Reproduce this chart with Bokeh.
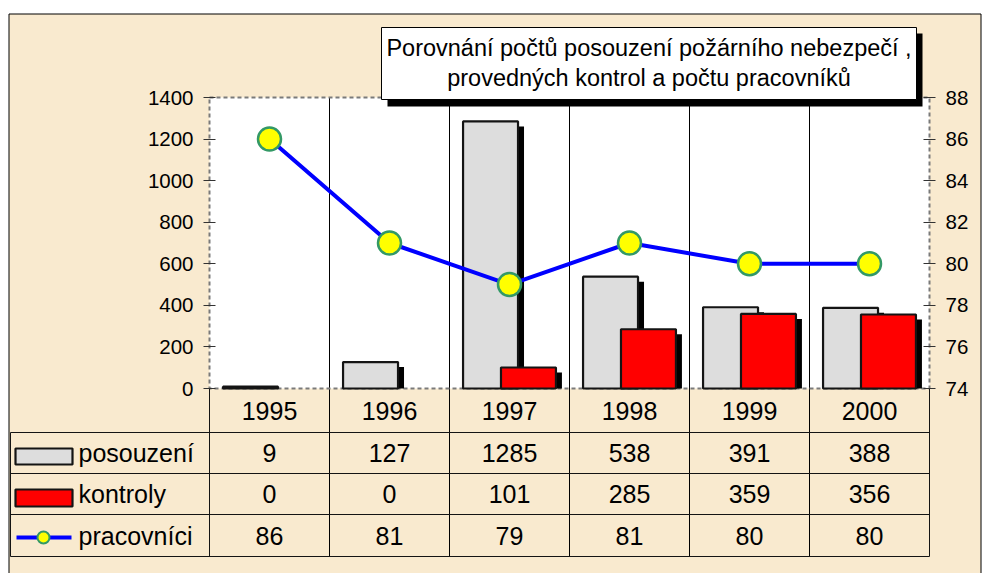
from bokeh.plotting import figure
from bokeh.models import Range1d, LinearAxis, FixedTicker, ColumnDataSource
from bokeh.core.properties import value
from bokeh.embed import file_html
from bokeh.resources import INLINE

# ---------------- data ----------------
years = ["1995", "1996", "1997", "1998", "1999", "2000"]
posouzeni = [9, 127, 1285, 538, 391, 388]
kontroly = [0, 0, 101, 285, 359, 356]
pracovnici = [86, 81, 79, 81, 80, 80]
left_ticks = [0, 200, 400, 600, 800, 1000, 1200, 1400]
right_ticks = [74, 76, 78, 80, 82, 84, 86, 88]
series_names = ["posouzení", "kontroly", "pracovníci"]
title_lines = ["Porovnání počtů posouzení požárního nebezpečí ,",
               "provedných kontrol a počtu pracovníků"]

FONT = "Liberation Sans"
BG = "#F9EACF"
GRAY = "#DDDDDD"
RED = "#FF0000"
BLUE = "#0000FF"
YELLOW = "#FFFF00"
GREEN = "#339966"
DARK = "#141414"

# ---------------- layout (canvas pixels) ----------------
W, H = 983, 573
PX_L, PX_R, PX_T, PX_B = 209, 929, 97, 388      # plot area
L_MIN, L_MAX = left_ticks[0], left_ticks[-1]
R_MIN, R_MAX = right_ticks[0], right_ticks[-1]

n = len(years)
centers = [i + 0.5 for i in range(n)]
xs = n / (PX_R - PX_L)
ys = (L_MAX - L_MIN) / (PX_B - PX_T)
rs = (R_MAX - R_MIN) / (PX_B - PX_T)

BW = 0.458          # bar width (category units)
OFF = 0.158         # dodge offset
SDX = 6 * xs        # shadow x offset
SDY = 5 * ys        # shadow y offset

p = figure(width=W, height=H,
           x_range=Range1d(-PX_L * xs, n + (W - PX_R) * xs),
           y_range=Range1d(L_MIN - (H - PX_B) * ys, L_MAX + PX_T * ys),
           output_backend="svg", toolbar_location=None,
           x_axis_location=None, y_axis_location=None,
           min_border=0, min_border_left=0, min_border_right=0,
           min_border_top=0, min_border_bottom=0)
p.title.visible = False
p.grid.visible = False
p.outline_line_color = None
p.extra_x_ranges = {"px": Range1d(0, W)}
p.extra_y_ranges = {"r": Range1d(R_MIN - (H - PX_B) * rs, R_MAX + PX_T * rs),
                    "px": Range1d(H, 0)}
p.background_fill_color = "white"
p.border_fill_color = "white"

PX = dict(x_range_name="px", y_range_name="px")

# ---------------- background, outer frame, plot area ----------------
p.quad(left=8.5, right=980.5, top=13.5, bottom=H + 20, fill_color=BG, line_color="black",
       line_width=1, **PX)
p.quad(left=0, right=n, bottom=L_MIN, top=L_MAX, fill_color="white", line_color=None)

# vertical category lines through plot and table
p.segment(x0=list(range(1, n)), x1=list(range(1, n)), y0=[PX_T] * (n - 1), y1=[556] * (n - 1),
          y_range_name="px", line_color="black", line_width=1)

# dashed plot-area border
p.quad(left=0, right=n, bottom=L_MIN, top=L_MAX, fill_color=None, line_color="#7a7a7a",
       line_width=2, line_dash="4 3")

# ---------------- axes ----------------
def style_axis(ax):
    ax.axis_line_color = None
    ax.major_tick_line_color = "#333333"
    ax.major_tick_line_width = 1
    ax.major_tick_in = 6
    ax.major_tick_out = 6
    ax.minor_tick_line_color = None
    ax.major_label_text_font = FONT
    ax.major_label_text_font_size = "20.5px"
    ax.major_label_text_color = "black"
    ax.major_label_standoff = 10

axl = LinearAxis(ticker=FixedTicker(ticks=left_ticks), fixed_location=0)
style_axis(axl)
p.add_layout(axl, "left")
axr = LinearAxis(y_range_name="r", ticker=FixedTicker(ticks=right_ticks), fixed_location=n)
style_axis(axr)
p.add_layout(axr, "right")

# ---------------- bars ----------------
bsrc = ColumnDataSource(dict(
    xg=[c - OFF for c in centers], xr=[c + OFF for c in centers],
    xgs=[c - OFF + SDX for c in centers], xrs=[c + OFF + SDX for c in centers],
    pos=posouzeni, kon=kontroly,
    pos_s=[max(v - SDY, 0) for v in posouzeni], kon_s=[max(v - SDY, 0) for v in kontroly],
    pa=[1 if v > 0 else 0 for v in posouzeni], ka=[1 if v > 0 else 0 for v in kontroly]))

p.vbar(x="xgs", top="pos_s", bottom=0, width=BW, source=bsrc, fill_color="black", line_color=None)
p.vbar(x="xg", top="pos", bottom=0, width=BW, source=bsrc, fill_color=GRAY, line_color=DARK,
       line_width=2.2, fill_alpha="pa", line_alpha="pa")
p.vbar(x="xrs", top="kon_s", bottom=0, width=BW, source=bsrc, fill_color="black", line_color=None)
p.vbar(x="xr", top="kon", bottom=0, width=BW, source=bsrc, fill_color=RED, line_color=DARK,
       line_width=2.2, fill_alpha="ka", line_alpha="ka")

# ---------------- line ----------------
lsrc = ColumnDataSource(dict(x=centers, y=pracovnici))
p.line("x", "y", source=lsrc, y_range_name="r", line_color=BLUE, line_width=4)
p.scatter("x", "y", source=lsrc, y_range_name="r", size=23, marker="circle",
          fill_color=YELLOW, line_color=GREEN, line_width=2.5)

# ---------------- data table ----------------
row_edges = [388, 432, 473, 514, 556]
row_centers = [(row_edges[k] + row_edges[k + 1]) / 2 for k in range(4)]

p.segment(x0=[10, 10, 10, 10, 209, 929, 10], x1=[929, 929, 929, 929, 209, 929, 10],
          y0=[432, 473, 514, 556, 388, 388, 432], y1=[432, 473, 514, 556, 556, 556, 556],
          line_color=DARK, line_width=1, **PX)

tx, ty, tt = [], [], []
rows = [years, posouzeni, kontroly, pracovnici]
for k, row in enumerate(rows):
    for i, v in enumerate(row):
        tx.append(centers[i])
        ty.append(row_centers[k])
        tt.append(str(v))
p.text(x=tx, y=ty, text=tt, y_range_name="px", text_font=value(FONT), text_font_size="25px",
       text_color="black", text_align="center", text_baseline="middle")

# legend column of the table
p.quad(left=[15, 15], right=[72, 72], top=[448, 489], bottom=[464, 506], fill_color=[GRAY, RED],
       line_color=DARK, line_width=2.2, **PX)
p.line(x=[16, 71], y=[537, 537], line_color=BLUE, line_width=4, **PX)
p.scatter(x=[43], y=[537], size=12, marker="circle", fill_color=YELLOW, line_color=GREEN,
          line_width=2, **PX)
p.text(x=[78] * 3, y=row_centers[1:], text=series_names, text_font=value(FONT),
       text_font_size="25px", text_color="black", text_align="left", text_baseline="middle", **PX)

# ---------------- title box ----------------
p.quad(left=387, right=922, top=33, bottom=106, fill_color="black", line_color=None, **PX)
p.quad(left=381, right=916, top=27, bottom=99, fill_color="white", line_color="black",
       line_width=1, **PX)
p.text(x=[648.5, 648.5], y=[47, 77], text=title_lines, text_font=value(FONT),
       text_font_size="23.5px", text_color="black", text_align="center", text_baseline="middle", **PX)

open("out.html", "w").write(file_html(p, INLINE))
